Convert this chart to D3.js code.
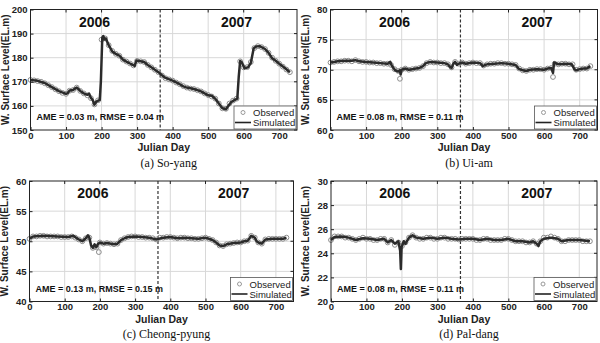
<!DOCTYPE html>
<html><head><meta charset="utf-8">
<script src="https://cdn.jsdelivr.net/npm/d3@7"></script>
<style>body{margin:0;background:#fff}svg{display:block}</style>
</head><body>
<script>
// ---- data ----
const xTicks = [0,100,200,300,400,500,600,700];
const obsDays = [0,10,20,30,40,50,60,70,80,90,100,110,120,130,140,150,160,170,180,190,200,210,220,230,240,250,260,270,280,290,300,310,320,330,340,350,360,370,380,390,400,410,420,430,440,450,460,470,480,490,500,510,520,530,540,550,560,570,580,590,600,610,620,630,640,650,660,670,680,690,700,710,720,730];

const soyangSim = [[0,170.8],[20,170.4],[40,169.5],[60,167.8],[80,166.1],[100,165.0],[105,165.3],[110,166.4],[120,166.6],[125,167.2],[130,167.6],[135,167.0],[140,166.2],[150,165.2],[160,164.6],[165,165.1],[170,163.3],[175,162.5],[180,160.5],[185,161.8],[195,162.5],[198,170],[202,188.3],[205,189.0],[208,187.6],[212,188.0],[220,185.2],[230,182.6],[240,181.6],[250,180.9],[260,179.2],[270,178.4],[280,177.6],[293,176.6],[298,178.8],[310,178.5],[320,178.2],[330,177.0],[340,176.0],[360,174.0],[370,172.7],[380,171.6],[400,170.5],[420,169.0],[430,168.1],[440,167.6],[460,167.0],[480,166.0],[500,164.4],[510,164.2],[520,163.0],[530,161.0],[540,159.0],[550,158.6],[555,159.6],[565,161.6],[575,162.5],[582,163.0],[586,172.0],[590,178.6],[595,178.0],[602,175.6],[612,176.0],[620,177.8],[628,183.8],[635,184.7],[645,184.8],[660,183.6],[670,182.0],[680,179.8],[690,178.7],[700,177.5],[715,175.8],[730,174.0]];
const soyangObs = [170.8,170.6,170.3,170.0,169.4,168.6,167.8,166.9,166.1,165.4,165.0,166.3,166.6,167.6,166.2,165.2,164.4,163.2,160.6,162.3,187.5,188.0,185.2,182.8,181.6,180.8,179.2,178.4,177.6,176.8,178.7,178.5,178.2,177.0,176.0,175.0,174.0,172.6,171.5,171.0,170.5,169.7,169.0,168.2,167.6,167.2,167.0,166.5,166.0,165.2,164.5,163.9,163.0,161.0,159.0,158.8,161.0,162.2,163.0,178.5,176.0,176.1,178.2,184.0,184.8,184.4,183.6,182.0,180.0,178.7,177.5,176.3,175.1,174.0];

const uiamSim = [[0,71.2],[10,71.3],[20,71.4],[40,71.5],[60,71.5],[70,71.6],[80,71.4],[100,71.3],[120,71.2],[140,71.1],[160,71.0],[168,71.3],[172,70.7],[178,70.2],[182,69.9],[190,69.7],[195,69.9],[197,69.2],[200,70.0],[210,70.2],[220,70.0],[230,70.1],[240,70.2],[250,70.3],[260,70.6],[268,71.1],[280,71.3],[300,71.2],[320,71.1],[330,70.9],[335,70.5],[340,70.3],[345,71.0],[350,71.3],[355,70.8],[360,71.0],[370,71.2],[380,71.0],[400,71.2],[420,71.1],[428,70.6],[435,70.8],[440,70.9],[460,71.0],[480,71.1],[500,71.0],[520,70.8],[528,70.2],[540,69.9],[550,69.8],[560,70.0],[580,70.1],[600,70.0],[610,70.2],[620,70.3],[625,69.5],[628,71.2],[640,70.9],[660,71.0],[678,70.9],[685,70.1],[690,69.9],[700,70.1],[710,70.2],[720,70.2],[730,70.6]];
const uiamObs = [71.2,71.3,71.4,71.4,71.5,71.5,71.4,71.6,71.4,71.3,71.3,71.2,71.2,71.1,71.1,71.0,71.0,70.8,70.1,69.8,70.0,70.2,70.0,70.1,70.2,70.3,70.6,71.1,71.3,71.2,71.2,71.1,71.1,70.9,70.4,71.3,71.0,71.2,71.0,71.1,71.2,71.1,71.1,70.7,70.9,71.0,71.0,71.1,71.1,71.0,71.0,70.9,70.8,70.2,69.9,69.8,70.0,70.0,70.1,70.1,70.0,70.2,70.3,71.0,70.9,71.0,71.0,70.9,70.9,70.0,70.1,70.2,70.2,70.6];
const uiamOut = [[195,68.5],[625,68.8]];

const cheongSim = [[0,50.4],[10,50.8],[40,50.9],[80,50.8],[110,50.7],[125,50.9],[132,50.6],[140,50.3],[150,50.0],[160,50.5],[166,51.0],[170,50.6],[175,49.3],[180,48.9],[185,49.5],[190,49.0],[195,49.6],[200,49.8],[210,49.6],[220,49.7],[240,49.5],[250,49.6],[260,50.2],[270,50.5],[280,50.7],[300,50.8],[320,50.7],[340,50.6],[360,50.3],[380,50.6],[400,50.7],[420,50.5],[440,50.6],[460,50.5],[480,50.4],[500,50.6],[520,50.2],[530,49.8],[540,49.3],[550,49.2],[560,49.5],[580,49.7],[600,49.8],[610,50.0],[620,50.1],[630,50.9],[640,50.6],[645,50.0],[650,49.8],[660,49.6],[670,50.3],[690,50.4],[720,50.4],[730,50.6]];
const cheongObs = [50.4,50.8,50.8,50.9,50.9,50.8,50.8,50.8,50.8,50.7,50.7,50.7,50.8,50.6,50.3,50.0,50.5,50.6,48.9,49.0,49.8,49.6,49.7,49.6,49.5,49.6,50.2,50.5,50.7,50.8,50.8,50.7,50.7,50.6,50.6,50.5,50.3,50.6,50.6,50.7,50.7,50.6,50.5,50.6,50.6,50.5,50.5,50.4,50.4,50.5,50.6,50.4,50.2,49.8,49.3,49.2,49.5,49.6,49.7,49.8,49.8,50.0,50.1,50.9,50.6,49.8,49.6,50.3,50.4,50.4,50.4,50.4,50.4,50.6];
const cheongOut = [[197,48.2]];

const paldangSim = [[0,25.1],[10,25.35],[30,25.4],[50,25.3],[70,25.1],[90,25.25],[110,25.2],[130,25.1],[150,25.2],[160,24.9],[170,25.1],[180,24.8],[190,25.0],[195,24.2],[197,22.7],[199,24.5],[205,25.0],[210,24.8],[220,25.3],[230,25.5],[240,25.3],[260,25.2],[280,25.3],[300,25.2],[320,25.3],[340,25.2],[360,25.15],[380,25.2],[400,25.2],[420,25.1],[440,25.2],[460,25.1],[480,25.1],[500,25.2],[520,25.0],[540,25.0],[560,24.9],[570,25.0],[580,24.8],[585,24.6],[590,25.0],[600,25.2],[620,25.3],[640,25.2],[650,25.0],[670,25.1],[700,25.1],[730,25.0]];
const paldangObs = [25.1,25.4,25.4,25.4,25.3,25.3,25.2,25.1,25.2,25.3,25.2,25.2,25.1,25.1,25.2,25.2,24.9,25.1,24.7,24.9,24.6,24.9,25.3,25.5,25.3,25.2,25.2,25.3,25.3,25.2,25.2,25.3,25.3,25.2,25.2,25.2,25.15,25.2,25.2,25.2,25.2,25.1,25.1,25.2,25.2,25.1,25.1,25.1,25.1,25.2,25.2,25.1,25.0,25.0,25.0,24.9,24.9,25.0,24.8,25.0,25.3,25.3,25.4,25.3,25.2,25.0,25.0,25.1,25.1,25.1,25.1,25.0,25.0,25.0];
const paldangOut = [];

const panels = [
  {sim:soyangSim, obs:soyangObs, out:[], yDom:[150,200], yTicks:[150,160,170,180,190,200], stats:"AME = 0.03 m, RMSE = 0.04 m", caption:"(a)  So-yang", x0:30.5,x1:297,y0:9.5,y1:130, cy:163},
  {sim:uiamSim, obs:uiamObs, out:uiamOut, yDom:[60,80], yTicks:[60,65,70,75,80], stats:"AME = 0.08 m, RMSE = 0.11 m", caption:"(b)  Ui-am", x0:330.5,x1:597.5,y0:9.5,y1:130, cy:163},
  {sim:cheongSim, obs:cheongObs, out:cheongOut, yDom:[40,60], yTicks:[40,45,50,55,60], stats:"AME = 0.13 m, RMSE = 0.15 m", caption:"(c)  Cheong-pyung", x0:29.5,x1:293.5,y0:181,y1:301.5, cy:334},
  {sim:paldangSim, obs:paldangObs, out:paldangOut, yDom:[20,30], yTicks:[20,22,24,26,28,30], stats:"AME = 0.08 m, RMSE = 0.11 m", caption:"(d)  Pal-dang", x0:331,x1:597,y0:181,y1:301.5, cy:334}
];

const svg = d3.select("body").append("svg").attr("width",600).attr("height",343);
const FONT = "Liberation Sans, Arial, sans-serif";

panels.forEach(p => {
  const x = d3.scaleLinear().domain([0,750]).range([p.x0,p.x1]);
  const y = d3.scaleLinear().domain(p.yDom).range([p.y1,p.y0]);
  const g = svg.append("g");
  // grid
  g.selectAll(".gx").data(xTicks.slice(1)).enter().append("line")
    .attr("x1",d=>x(d)).attr("x2",d=>x(d)).attr("y1",p.y0).attr("y2",p.y1)
    .attr("stroke","#d8d8d8").attr("stroke-width",1);
  g.selectAll(".gy").data(p.yTicks.slice(1,-1)).enter().append("line")
    .attr("x1",p.x0).attr("x2",p.x1).attr("y1",d=>y(d)).attr("y2",d=>y(d))
    .attr("stroke","#d8d8d8").attr("stroke-width",1);
  // dashed year separator
  g.append("line").attr("x1",x(365)).attr("x2",x(365)).attr("y1",p.y0).attr("y2",p.y1)
    .attr("stroke","#333").attr("stroke-width",1.2).attr("stroke-dasharray","3,2");
  // observed circles
  const obsPts = obsDays.map((d,i)=>[d,p.obs[i]]).concat(p.out);
  g.selectAll(".o").data(obsPts).enter().append("circle")
    .attr("cx",d=>x(d[0])).attr("cy",d=>y(d[1])).attr("r",2.4)
    .attr("fill","none").attr("stroke","#8c8c8c").attr("stroke-width",1);
  // simulated line
  g.append("path").datum(p.sim)
    .attr("d",d3.line().x(d=>x(d[0])).y(d=>y(d[1])))
    .attr("fill","none").attr("stroke","#2b2b2b").attr("stroke-width",2.5).attr("stroke-linejoin","round");
  // axes
  const ax = g.append("g").attr("transform",`translate(0,${p.y1})`)
    .call(d3.axisBottom(x).tickValues(xTicks).tickSize(-3).tickPadding(2));
  const ay = g.append("g").attr("transform",`translate(${p.x0},0)`)
    .call(d3.axisLeft(y).tickValues(p.yTicks).tickSize(-3).tickPadding(3));
  [ax,ay].forEach(a=>{
    a.select(".domain").remove();
    a.selectAll("line").attr("stroke","#222");
    a.selectAll("text").attr("font-family",FONT).attr("font-size",9.5).attr("font-weight","bold").attr("fill","#222");
  });
  // frame
  g.append("rect").attr("x",p.x0).attr("y",p.y0).attr("width",p.x1-p.x0).attr("height",p.y1-p.y0)
    .attr("fill","none").attr("stroke","#222").attr("stroke-width",1);
  // right ticks/top ticks
  g.selectAll(".rt").data(p.yTicks).enter().append("line")
    .attr("x1",p.x1).attr("x2",p.x1-3).attr("y1",d=>y(d)).attr("y2",d=>y(d)).attr("stroke","#222");
  g.selectAll(".tt").data(xTicks).enter().append("line")
    .attr("x1",d=>x(d)).attr("x2",d=>x(d)).attr("y1",p.y0).attr("y2",p.y0+3).attr("stroke","#222");
  // year labels
  g.append("text").attr("x",x(180)).attr("y",p.y0+17).attr("text-anchor","middle")
    .attr("font-family",FONT).attr("font-weight","bold").attr("font-size",14).attr("fill","#111").text("2006");
  g.append("text").attr("x",x(580)).attr("y",p.y0+17).attr("text-anchor","middle")
    .attr("font-family",FONT).attr("font-weight","bold").attr("font-size",14).attr("fill","#111").text("2007");
  // stats
  g.append("text").attr("x",p.x0+6).attr("y",p.y1-10).attr("font-family",FONT).attr("font-weight","bold")
    .attr("font-size",9).attr("fill","#111").text(p.stats);
  // legend
  const lx = p.x1-63, ly = p.y1-24;
  g.append("rect").attr("x",lx).attr("y",ly).attr("width",62).attr("height",23)
    .attr("fill","#fff").attr("stroke","#555").attr("stroke-width",0.8);
  g.append("circle").attr("cx",lx+9).attr("cy",ly+6.5).attr("r",2).attr("fill","none").attr("stroke","#999");
  g.append("text").attr("x",lx+19).attr("y",ly+10).attr("font-family",FONT).attr("font-size",9.5).attr("fill","#222").text("Observed");
  g.append("line").attr("x1",lx+1).attr("x2",lx+17).attr("y1",ly+16.5).attr("y2",ly+16.5).attr("stroke","#222").attr("stroke-width",1.6);
  g.append("text").attr("x",lx+19).attr("y",ly+20).attr("font-family",FONT).attr("font-size",9.5).attr("fill","#222").text("Simulated");
  // axis titles
  g.append("text").attr("x",(p.x0+p.x1)/2).attr("y",p.y1+21).attr("text-anchor","middle")
    .attr("font-family",FONT).attr("font-weight","bold").attr("font-size",10.5).attr("fill","#222").text("Julian Day");
  g.append("text").attr("transform",`translate(${p.x0-22},${(p.y0+p.y1)/2}) rotate(-90)`).attr("text-anchor","middle")
    .attr("font-family",FONT).attr("font-weight","bold").attr("font-size",10).attr("fill","#222").text("W. Surface Level(EL.m)");
  // caption
  g.append("text").attr("x",(p.x0+p.x1)/2+5).attr("y",p.cy+4).attr("text-anchor","middle")
    .attr("font-family","Liberation Serif, Times New Roman, serif").attr("font-size",12).attr("fill","#111").text(p.caption);
});
</script>
</body></html>
